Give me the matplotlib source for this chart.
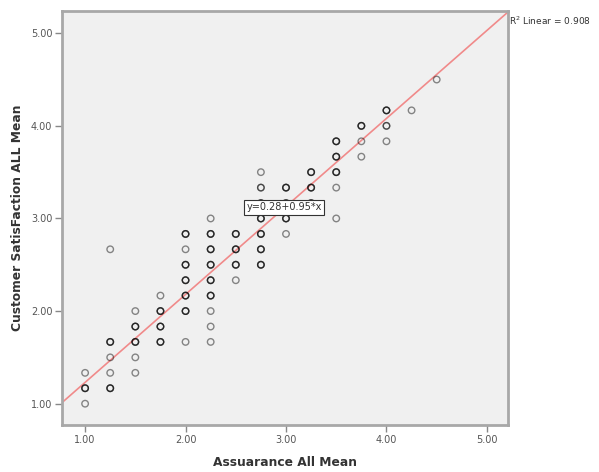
import numpy as np
import matplotlib
matplotlib.use("Agg")
import matplotlib.pyplot as plt

# scatter points: assurance mean, satisfaction mean, number of respondents at that spot
assurance = [
    1.00, 1.00, 1.00,
    1.25, 1.25, 1.25, 1.25, 1.25,
    1.50, 1.50, 1.50, 1.50, 1.50,
    1.75, 1.75, 1.75, 1.75,
    2.00, 2.00, 2.00, 2.00, 2.00, 2.00, 2.00,
    2.25, 2.25, 2.25, 2.25, 2.25, 2.25, 2.25, 2.25, 2.25,
    2.50, 2.50, 2.50, 2.50,
    2.75, 2.75, 2.75, 2.75, 2.75, 2.75, 2.75,
    3.00, 3.00, 3.00, 3.00,
    3.25, 3.25, 3.25,
    3.50, 3.50, 3.50, 3.50, 3.50,
    3.75, 3.75, 3.75,
    4.00, 4.00, 4.00,
    4.25,
    4.50,
]
satisfaction = [
    1.000, 1.167, 1.333,
    2.667, 1.667, 1.500, 1.333, 1.167,
    2.000, 1.833, 1.667, 1.500, 1.333,
    2.167, 2.000, 1.833, 1.667,
    2.833, 2.667, 2.500, 2.333, 2.167, 2.000, 1.667,
    3.000, 2.833, 2.667, 2.500, 2.333, 2.167, 2.000, 1.833, 1.667,
    2.833, 2.667, 2.500, 2.333,
    3.500, 3.333, 3.167, 3.000, 2.833, 2.667, 2.500,
    3.333, 3.167, 3.000, 2.833,
    3.500, 3.333, 3.167,
    3.833, 3.667, 3.500, 3.333, 3.000,
    4.000, 3.833, 3.667,
    4.167, 4.000, 3.833,
    4.167,
    4.500,
]
counts = [
    1, 3, 1,
    1, 3, 1, 1, 3,
    1, 3, 3, 1, 1,
    1, 3, 3, 3,
    3, 1, 3, 3, 3, 3, 1,
    1, 3, 3, 3, 3, 3, 1, 1, 1,
    3, 3, 3, 1,
    1, 2, 2, 3, 3, 3, 3,
    3, 2, 3, 1,
    3, 3, 2,
    3, 3, 3, 1, 1,
    3, 1, 1,
    3, 2, 1,
    1,
    1,
]

intercept = 0.28
slope = 0.95
r_squared = 0.908

x_ticks = [1, 2, 3, 4, 5]
y_ticks = [1, 2, 3, 4, 5]

GREY = "#555555"

xs = np.repeat(assurance, counts)
ys = np.repeat(satisfaction, counts)

fig = plt.figure(figsize=(5.99, 4.72), dpi=100)
ax = fig.add_axes([0.1035, 0.0996, 0.7446, 0.8771])
ax.set_facecolor("#f0f0f0")

ax.scatter(xs, ys, s=22, facecolors="none", edgecolors=(0, 0, 0, 0.45),
           linewidths=1.0, zorder=3)

x_lo, x_hi = 0.77, 5.21
y_lo, y_hi = 0.77, 5.24
line_x = np.array([x_lo, x_hi])
ax.plot(line_x, intercept + slope * line_x, color="#f08a8a", lw=1.2, zorder=2)

ax.set_xlim(x_lo, x_hi)
ax.set_ylim(y_lo, y_hi)
ax.set_xticks(x_ticks)
ax.set_yticks(y_ticks)
ax.set_xticklabels([f"{v:.2f}" for v in x_ticks])
ax.set_yticklabels([f"{v:.2f}" for v in y_ticks])
ax.tick_params(direction="out", length=5, width=1, color="#888888",
               labelsize=7, labelcolor=GREY, pad=2)

for spine in ax.spines.values():
    spine.set_edgecolor("#a8a8a8")
    spine.set_linewidth(2.0)

ax.set_xlabel("Assuarance All Mean", fontsize=8.8, fontweight="bold",
              color="#333333", labelpad=8)
ax.set_ylabel("Customer SatisFaction ALL Mean", fontsize=8.8, fontweight="bold",
              color="#333333", labelpad=5)

ax.text(2.98, 3.12, f"y={intercept:.2f}+{slope:.2f}*x", fontsize=7, color="#333333",
        ha="center", va="center", zorder=5,
        bbox=dict(boxstyle="square,pad=0.25", facecolor="white",
                  edgecolor="#333333", linewidth=0.8))

fig.text(0.85, 0.955, f"R$^2$ Linear = {r_squared:.3f}", fontsize=6.5,
         color="#333333", ha="left", va="center")

fig.savefig("out.png", dpi=100)
